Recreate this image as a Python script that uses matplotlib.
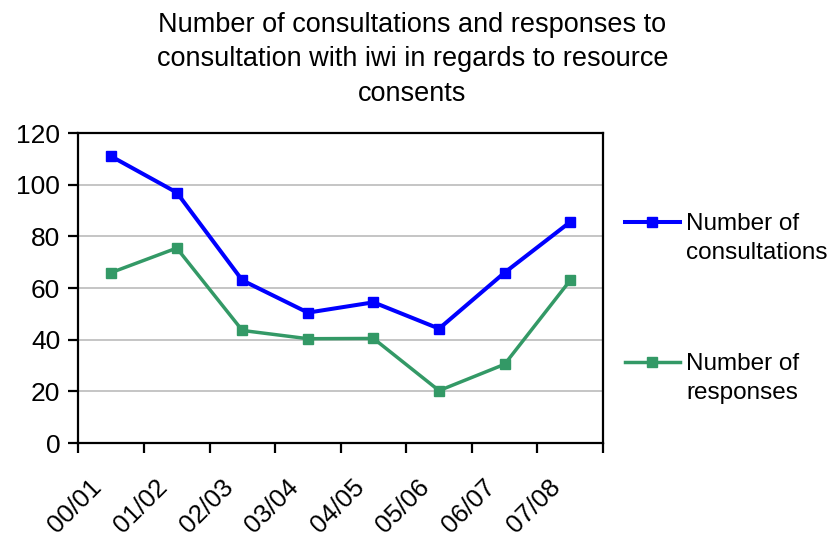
import matplotlib
matplotlib.use("Agg")
import matplotlib.pyplot as plt
from matplotlib.lines import Line2D
import numpy as np

plt.rcParams['font.family'] = ['Liberation Sans', 'DejaVu Sans']

years = ["00/01", "01/02", "02/03", "03/04", "04/05", "05/06", "06/07", "07/08"]
consultations = [111, 97, 63, 50.5, 54.5, 44.3, 66, 85.6]
responses = [66, 75.5, 43.6, 40.4, 40.5, 20.3, 30.5, 63]
series_names = ["Number of\nconsultations", "Number of\nresponses"]
blue = "#0000FF"
green = "#339966"

fig = plt.figure(figsize=(8.34, 5.39), dpi=100)
ax = fig.add_axes([0.094, 0.178, 0.629, 0.575])

x = np.arange(len(years)) + 0.5
ax.plot(x, consultations, color=blue, lw=2.9, marker='s', ms=7.5, zorder=3)
ax.plot(x, responses, color=green, lw=2.5, marker='s', ms=7.2, zorder=3)

ax.set_xlim(0, len(years))
ax.set_ylim(0, 120)
ax.set_yticks(range(0, 121, 20))
ax.set_xticks(np.arange(len(years) + 1))
ax.set_xticklabels([])
ax.yaxis.grid(True, color="#C0C0C0", lw=1.3)
ax.set_axisbelow(True)
for s in ax.spines.values():
    s.set_linewidth(1.6)
    s.set_color("black")
ax.tick_params(axis='both', direction='out', length=7, width=1.6, labelsize=19)
ax.tick_params(axis='y', pad=6)

for xi, lab in zip(x, years):
    ax.text(xi - 0.2, -15.5, lab, rotation=45, ha='right', va='center',
            rotation_mode='anchor', fontsize=18.5, transform=ax.transData)

fig.text(0.4946, 0.978, "Number of consultations and responses to\nconsultation with iwi in regards to resource\nconsents",
         ha='center', va='top', fontsize=19.5, linespacing=1.42)

# legend
for (yy, col, lw, name) in [(1 - 222 / 539, blue, 2.9, series_names[0]),
                            (1 - 362 / 539, green, 2.5, series_names[1])]:
    fig.add_artist(Line2D([0.749, 0.815], [yy, yy], color=col, lw=lw,
                          transform=fig.transFigure))
    fig.add_artist(Line2D([0.782], [yy], color=col, marker='s', ms=7,
                          transform=fig.transFigure))
    fig.text(0.823, yy + 9 / 539, name, ha='left', va='top', fontsize=17.5, linespacing=1.42)

fig.savefig("out.png", dpi=100)
